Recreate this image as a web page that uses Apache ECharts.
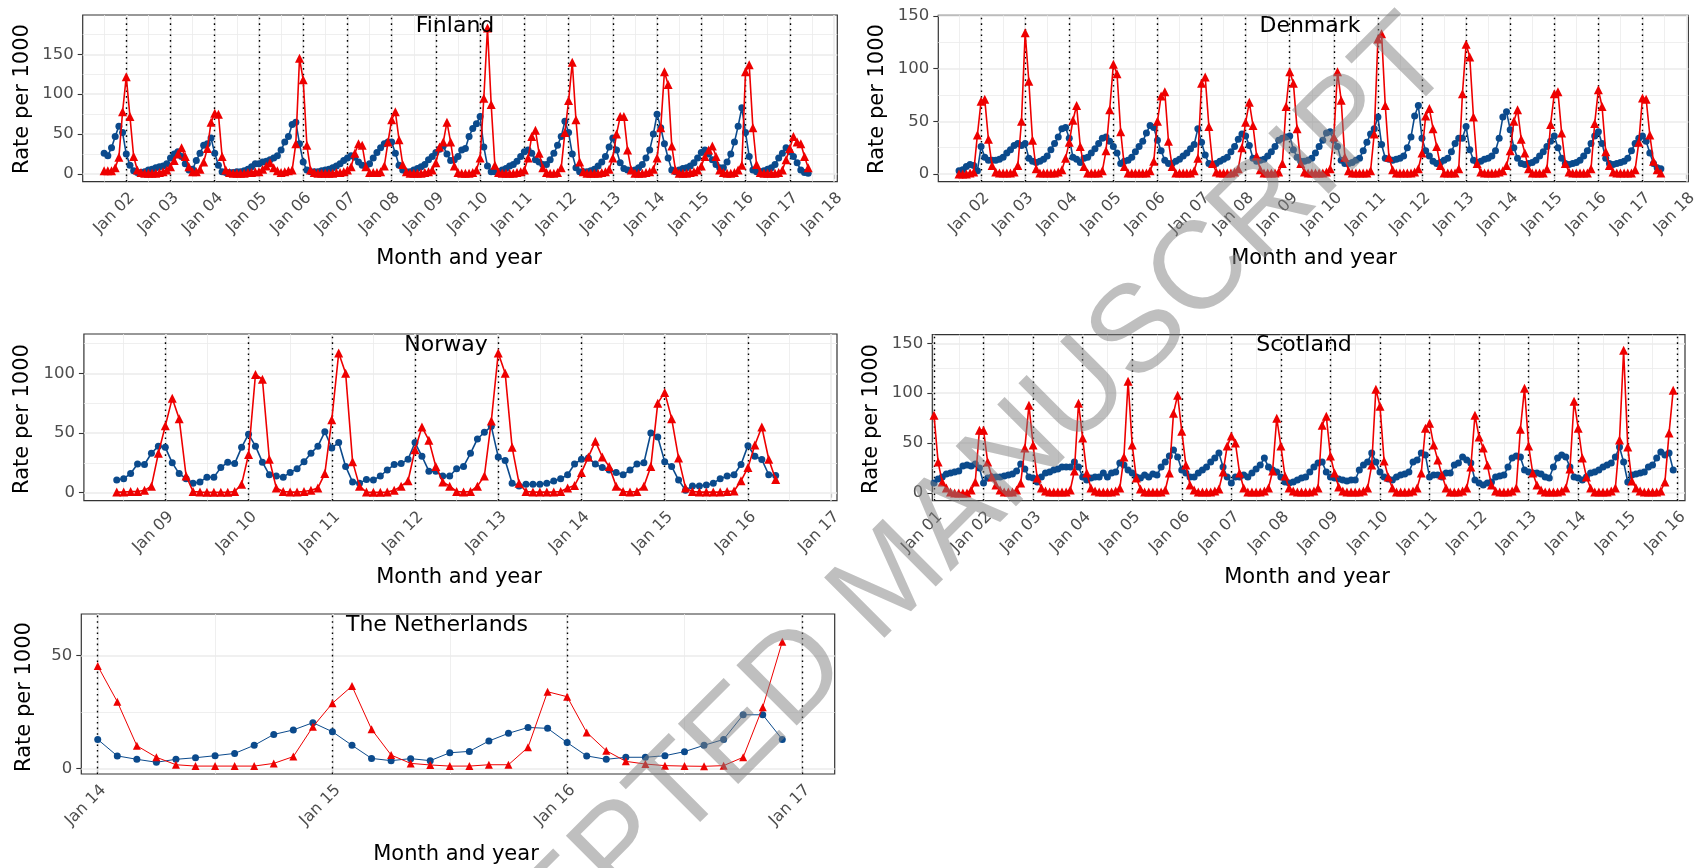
<!DOCTYPE html>
<html>
<head>
<meta charset="utf-8">
<title>Rate per 1000</title>
<script src="https://cdn.jsdelivr.net/npm/echarts@6/dist/echarts.min.js"></script>
<style>
  html, body { margin: 0; padding: 0; background: #fff; }
  #chart { width: 1700px; height: 868px; }
</style>
</head>
<body>
<div id="chart"></div>
<script>
// monthly rates, each series starts at [year, month]
var finlandStart = [2001, 7]
var finlandBlue = [
  26, 23, 33, 47, 60, 52,
  25, 11, 4, 2, 2, 3, 5, 6, 8, 9, 10, 13,
  20, 25, 28, 22, 13, 5, 6, 17, 26, 36, 38, 45,
  26, 11, 3, 2, 2, 2, 3, 3, 4, 6, 9, 13,
  13, 15, 16, 18, 20, 23, 30, 40, 47, 62, 65, 38,
  15, 5, 3, 3, 3, 4, 5, 6, 8, 10, 13, 17,
  20, 23, 21, 15, 11, 9, 13, 20, 27, 33, 38, 40,
  40, 26, 11, 5, 3, 3, 5, 7, 9, 12, 18, 22,
  27, 31, 35, 25, 17, 18, 22, 30, 32, 47, 57, 63,
  72, 34, 10, 3, 3, 3, 5, 7, 10, 12, 16, 22,
  28, 30, 26, 18, 15, 12, 12, 18, 26, 36, 47, 66,
  52, 25, 8, 3, 3, 3, 4, 6, 10, 15, 22, 34,
  45, 30, 14, 7, 5, 4, 5, 8, 12, 20, 30, 50,
  75, 58, 38, 20, 5, 3, 5, 7, 8, 10, 14, 20,
  27, 30, 25, 18, 12, 8, 8, 15, 25, 40, 60, 83,
  52, 22, 5, 3, 3, 4, 6, 8, 12, 20, 26, 33,
  28, 22, 14, 5, 2, 1
]
var finlandRed = [
  4, 4, 4, 8, 21, 78,
  122, 72, 22, 5, 2, 1, 1, 1, 1, 2, 3, 5,
  9, 17, 25, 33, 22, 9, 3, 3, 6, 15, 32, 65,
  76, 75, 22, 5, 2, 1, 1, 1, 1, 2, 2, 3,
  3, 6, 10, 14, 8, 4, 2, 3, 4, 5, 38, 145,
  118, 36, 5, 2, 1, 1, 1, 1, 1, 2, 2, 3,
  5, 9, 26, 38, 36, 9, 2, 2, 2, 3, 10, 40,
  68, 78, 43, 12, 3, 1, 1, 1, 1, 2, 3, 5,
  14, 34, 40, 65, 40, 10, 2, 1, 1, 1, 2, 5,
  20, 95, 183, 87, 11, 2, 1, 1, 1, 1, 2, 3,
  5, 20, 47, 55, 26, 8, 2, 1, 1, 2, 8, 52,
  92, 140, 68, 15, 3, 1, 1, 1, 1, 2, 3, 6,
  20, 50, 72, 72, 30, 5, 1, 1, 1, 2, 3, 6,
  20, 58, 128, 112, 35, 5, 1, 1, 1, 2, 3, 5,
  10, 22, 30, 35, 22, 5, 2, 1, 1, 2, 5, 11,
  128, 137, 58, 12, 2, 1, 1, 1, 1, 2, 5, 18,
  32, 47, 40, 38, 22, 8
]

var denmarkStart = [2001, 7]
var denmarkBlue = [
  3, 4, 7, 9, 8, 3,
  26, 16, 13, 13, 13, 14, 16, 20, 23, 27, 29, 27,
  29, 15, 12, 11, 12, 14, 17, 23, 29, 35, 43, 44,
  34, 16, 14, 11, 15, 16, 20, 24, 29, 34, 35, 31,
  26, 20, 10, 12, 13, 16, 21, 26, 31, 39, 46, 44,
  32, 22, 13, 10, 10, 12, 14, 17, 20, 24, 28, 43,
  30, 18, 10, 9, 10, 12, 14, 16, 21, 26, 33, 38,
  36, 27, 15, 12, 13, 14, 17, 21, 26, 32, 34, 35,
  36, 23, 16, 12, 12, 13, 15, 20, 26, 32, 39, 40,
  32, 26, 13, 10, 10, 11, 13, 15, 22, 30, 38, 43,
  54, 28, 15, 14, 13, 14, 15, 17, 25, 35, 55, 65,
  34, 22, 17, 12, 10, 11, 13, 15, 21, 29, 34, 34,
  45, 23, 13, 11, 12, 14, 15, 17, 22, 34, 54, 59,
  42, 25, 15, 10, 9, 10, 11, 13, 17, 21, 26, 31,
  36, 25, 15, 10, 9, 10, 11, 13, 17, 22, 29, 36,
  40, 29, 15, 10, 9, 10, 11, 12, 15, 22, 29, 34,
  36, 31, 20, 10, 6, 5
]
var denmarkRed = [
  0, 0, 0, 1, 2, 37,
  69, 71, 33, 8, 2, 1, 1, 1, 1, 2, 8, 50,
  134, 88, 32, 5, 1, 1, 1, 1, 1, 2, 4, 15,
  30, 51, 65, 26, 7, 1, 1, 1, 1, 3, 22, 61,
  104, 95, 40, 7, 1, 1, 1, 1, 1, 1, 3, 12,
  50, 74, 78, 31, 7, 1, 1, 1, 1, 1, 3, 15,
  86, 92, 45, 10, 2, 1, 1, 1, 1, 2, 5, 25,
  49, 68, 46, 17, 4, 1, 1, 1, 1, 2, 10, 64,
  97, 86, 43, 10, 2, 1, 1, 1, 1, 1, 2, 5,
  35, 97, 70, 16, 3, 1, 1, 1, 1, 1, 3, 38,
  128, 133, 65, 16, 4, 1, 1, 1, 1, 1, 2, 5,
  20, 55, 62, 43, 26, 8, 1, 1, 1, 1, 5, 76,
  123, 111, 54, 10, 2, 1, 1, 1, 1, 2, 3, 8,
  22, 50, 61, 33, 20, 5, 1, 1, 1, 1, 5, 47,
  76, 78, 39, 10, 2, 1, 1, 1, 1, 1, 5, 48,
  80, 64, 21, 8, 2, 1, 1, 1, 1, 1, 4, 30,
  72, 71, 37, 12, 4, 1
]

var norwayStart = [2008, 6]
var norwayBlue = [
  10.6, 11.7, 16, 24, 23.6, 33, 39,
  38, 25, 16, 11.7, 8, 9, 13, 13, 21, 25.6, 24.4, 38,
  49, 39, 25.6, 15, 14, 13, 17, 20, 26, 33, 39, 51,
  37.5, 42, 22, 9, 8, 11, 10.6, 14, 19, 23.6, 24.4, 28,
  42, 30.5, 18, 18, 14, 14, 20, 22, 33, 45, 50.6, 55.6,
  30, 27, 8, 5.6, 7, 7, 7, 8, 9.7, 11.7, 15, 24,
  28, 29, 24, 21, 19, 17, 15, 19, 24, 25, 50, 46.7,
  26, 22, 10.6, 2, 5.6, 5.6, 6.4, 8, 11.7, 14, 15, 23.6,
  39.4, 30.5, 27.8, 15, 14.4
]
var norwayRed = [
  0.5, 0.5, 1, 1, 2, 5.5, 33,
  56, 79, 62, 14, 1, 0.5, 0.3, 0.3, 0.3, 0.3, 1, 7,
  32, 99, 95, 28, 4, 1, 0.5, 0.5, 1, 2, 4, 16,
  61, 117, 100, 26, 5.5, 0.5, 0.3, 0.3, 0.5, 2, 5.5, 10,
  36, 55, 44, 22, 9, 5.5, 1, 0.5, 1, 5.5, 14, 60,
  117, 100, 38, 8, 1, 0.5, 0.5, 0.5, 0.5, 1, 4, 6,
  17, 30, 43, 30, 22, 5.5, 1, 0.5, 1, 5.5, 22, 75,
  84, 62, 29, 4, 1, 0.5, 0.5, 0.5, 0.5, 1, 1.4, 10,
  21, 40, 55, 28, 11
]

var scotlandStart = [2001, 1]
var scotlandBlue = [
  10, 14, 16, 19, 20, 21, 22, 27, 28, 27, 29, 25,
  10, 15, 16, 16, 16, 17, 18, 19, 22, 29, 24, 16,
  15, 11, 16, 20, 21, 23, 24, 26, 26, 26, 31, 26,
  16, 13, 15, 16, 16, 20, 16, 20, 21, 30, 28, 23,
  20, 16, 15, 18, 16, 19, 18, 26, 31, 37, 43, 36,
  23, 20, 16, 16, 20, 23, 26, 31, 35, 40, 26, 16,
  10, 16, 16, 18, 16, 20, 24, 28, 35, 26, 23, 21,
  16, 11, 10, 11, 13, 15, 16, 21, 26, 30, 31, 21,
  16, 15, 14, 13, 12, 13, 13, 23, 28, 31, 40, 31,
  21, 16, 14, 13, 16, 18, 19, 21, 31, 33, 40, 38,
  16, 18, 18, 16, 20, 20, 28, 30, 36, 33, 30, 13,
  10, 8, 10, 11, 16, 17, 18, 26, 35, 37, 36, 23,
  21, 20, 20, 19, 16, 15, 26, 35, 38, 36, 26, 16,
  15, 13, 16, 20, 21, 23, 26, 28, 30, 36, 46, 31,
  11, 18, 19, 20, 21, 26, 28, 35, 41, 38, 40, 23
]
var scotlandRed = [
  78, 31, 11, 5, 1, 0, 0, 0, 0, 3, 11, 63,
  63, 31, 16, 8, 3, 1, 1, 1, 3, 10, 45, 88,
  48, 15, 5, 2, 1, 1, 1, 1, 1, 3, 22, 90,
  55, 20, 5, 2, 1, 1, 1, 1, 2, 5, 36, 112,
  48, 15, 4, 1, 1, 1, 1, 1, 3, 20, 80, 98,
  62, 28, 8, 3, 1, 1, 1, 1, 2, 4, 21, 47,
  57, 50, 20, 5, 1, 1, 1, 1, 2, 5, 22, 75,
  47, 17, 5, 2, 1, 1, 1, 1, 2, 5, 68, 77,
  37, 20, 6, 2, 1, 1, 1, 1, 2, 5, 28, 104,
  87, 32, 16, 5, 1, 1, 1, 1, 2, 5, 20, 65,
  70, 48, 33, 18, 5, 1, 1, 1, 2, 5, 26, 78,
  56, 45, 28, 8, 2, 1, 1, 1, 2, 5, 64, 105,
  47, 20, 8, 3, 1, 1, 1, 1, 2, 5, 24, 92,
  65, 35, 16, 5, 1, 1, 1, 1, 2, 5, 53, 143,
  46, 12, 5, 2, 1, 1, 1, 1, 2, 11, 60, 103
]

var netherlandsStart = [2014, 1]
var netherlandsBlue = [
  12.8, 5.5, 4, 2.7, 4, 4.7, 5.6, 6.6, 10.2, 15, 17, 20.2,
  16.2, 10.2, 4.4, 3.4, 4.3, 3.4, 6.9, 7.5, 12.1, 15.5, 18.1, 17.7,
  11.4, 5.5, 4, 4.9, 4.9, 5.6, 7.4, 10.2, 12.8, 23.7, 23.7, 12.8
]
var netherlandsRed = [
  45.3, 29.5, 10, 4.9, 1.6, 1, 1, 1, 1, 2.2, 5.2, 18.4,
  28.8, 36.4, 17.3, 5.9, 2.2, 1.5, 1, 1, 1.6, 1.6, 9.3, 33.9,
  31.7, 15.9, 7.8, 3.1, 1.9, 1.2, 1, 0.9, 1.2, 4.9, 27, 56
]

function range (a, b) {
  var out = []
  for (var v = a; v <= b + 1e-9; v += 1) out.push(v)
  return out
}

function monthly (start, values) {
  return values.map(function (v, i) {
    return [start[0] + (start[1] - 1 + i) / 12, v]
  })
}

var BLUE = '#0b4a8c'
var RED = '#ee0000'
var FONT = '"DejaVu Sans", sans-serif'

var panels = [
  { name: 'Finland', start: finlandStart, blue: finlandBlue, red: finlandRed,
    box: [82.7, 15, 754.6, 166.7], x: [2001.015, 2018.075], y: [-9.6, 199.2],
    years: range(2002, 2018), minorX: range(2001, 2017).map(function (v) { return v + 0.5 }),
    vlines: range(2002, 2017), yMajor: [0, 50, 100, 150], yMinor: [25, 75, 125, 175],
    title: [455, 26], xTitle: [459, 259], yTitle: [23, 99] },
  { name: 'Denmark', start: denmarkStart, blue: denmarkBlue, red: denmarkRed,
    box: [938.3, 15.3, 753.4, 166.4], x: [2001.03, 2018.04], y: [-7.3, 150.5],
    years: range(2002, 2018), minorX: range(2001, 2017).map(function (v) { return v + 0.5 }),
    vlines: range(2002, 2017), yMajor: [0, 50, 100, 150], yMinor: [25, 75, 125],
    title: [1310, 26], xTitle: [1314, 259], yTitle: [878, 99] },
  { name: 'Norway', start: norwayStart, blue: norwayBlue, red: norwayRed,
    box: [83.9, 334, 753.1, 166.7], x: [2008.022, 2017.07], y: [-6.7, 132.9],
    years: range(2009, 2017), minorX: range(2008, 2016).map(function (v) { return v + 0.5 }),
    vlines: range(2009, 2016), yMajor: [0, 50, 100], yMinor: [25, 75, 125],
    title: [446, 345], xTitle: [459, 578], yTitle: [23, 419] },
  { name: 'Scotland', start: scotlandStart, blue: scotlandBlue, red: scotlandRed,
    box: [932.3, 334.7, 752.7, 166], x: [2000.966, 2016.155], y: [-7.7, 158.6],
    years: range(2001, 2016), minorX: range(2001, 2015).map(function (v) { return v + 0.5 }),
    vlines: range(2001, 2016), yMajor: [0, 50, 100, 150], yMinor: [25, 75, 125],
    title: [1304, 345], xTitle: [1307, 578], yTitle: [872, 419] },
  { name: 'The Netherlands', start: netherlandsStart, blue: netherlandsBlue, red: netherlandsRed,
    box: [81.3, 614, 753.4, 160], x: [2013.93, 2017.14], y: [-2.5, 68.3],
    years: range(2014, 2017), minorX: [2014.5, 2015.5, 2016.5],
    vlines: range(2014, 2017), yMajor: [0, 50], yMinor: [25],
    title: [437, 625], xTitle: [456, 855], yTitle: [25, 697], thin: true }
]

function yearLabel (v) {
  var y = Math.round(v) % 100
  return 'Jan ' + (y < 10 ? '0' + y : y)
}

function text (str, x, y, size, rotation) {
  return {
    type: 'text', x: x, y: y, rotation: rotation || 0, z: 50, silent: true,
    style: {
      text: str, x: 0, y: 0, fill: '#000', font: size + 'px ' + FONT,
      textAlign: 'center', textVerticalAlign: 'middle', align: 'center', verticalAlign: 'middle'
    }
  }
}

var grids = []
var xAxes = []
var yAxes = []
var series = []
var graphics = []

panels.forEach(function (p, i) {
  grids.push({
    left: p.box[0], top: p.box[1], width: p.box[2], height: p.box[3],
    show: true, borderColor: '#333', borderWidth: 1.2, backgroundColor: '#fff'
  })
  xAxes.push({
    type: 'value', gridIndex: i, min: p.x[0], max: p.x[1],
    axisLine: { show: false },
    splitLine: { show: false },
    axisTick: { customValues: p.years, length: 5, lineStyle: { color: '#333', width: 1.1 } },
    axisLabel: {
      customValues: p.years, formatter: yearLabel, rotate: 45, margin: 8,
      align: 'right', verticalAlign: 'top',
      color: '#4d4d4d', fontSize: 16, fontFamily: FONT
    }
  })
  yAxes.push({
    type: 'value', gridIndex: i, min: p.y[0], max: p.y[1],
    axisLine: { show: false },
    splitLine: { show: false },
    axisTick: { customValues: p.yMajor, length: 5, lineStyle: { color: '#333', width: 1.1 } },
    axisLabel: { customValues: p.yMajor, margin: 9, color: '#4d4d4d', fontSize: 16.5, fontFamily: FONT }
  })

  // background grid and the dotted January lines
  var marks = []
  p.minorX.forEach(function (v) { marks.push({ xAxis: v, lineStyle: { color: '#ebebeb', width: 0.8, type: 'solid' } }) })
  p.yMinor.forEach(function (v) { marks.push({ yAxis: v, lineStyle: { color: '#ebebeb', width: 0.8, type: 'solid' } }) })
  p.years.forEach(function (v) { marks.push({ xAxis: v, lineStyle: { color: '#ebebeb', width: 1.6, type: 'solid' } }) })
  p.yMajor.forEach(function (v) { marks.push({ yAxis: v, lineStyle: { color: '#ebebeb', width: 1.6, type: 'solid' } }) })
  p.vlines.forEach(function (v) { marks.push({ xAxis: v, lineStyle: { color: '#000', width: 1.4, type: [1.6, 4] } }) })

  series.push({
    type: 'line', xAxisIndex: i, yAxisIndex: i, data: [], silent: true,
    markLine: { z: 1, silent: true, symbol: ['none', 'none'], label: { show: false }, data: marks }
  })
  series.push({
    type: 'line', name: p.name + ' blue', xAxisIndex: i, yAxisIndex: i, z: 3,
    data: monthly(p.start, p.blue),
    symbol: 'circle', symbolSize: 7,
    lineStyle: { color: BLUE, width: p.thin ? 1 : 1.6 },
    itemStyle: { color: BLUE }
  })
  series.push({
    type: 'line', name: p.name + ' red', xAxisIndex: i, yAxisIndex: i, z: 4,
    data: monthly(p.start, p.red),
    symbol: 'triangle', symbolSize: p.thin ? 8 : 9,
    lineStyle: { color: RED, width: p.thin ? 1 : 1.6 },
    itemStyle: { color: RED }
  })

  graphics.push(text(p.name, p.title[0], p.title[1], 22))
  graphics.push(text('Month and year', p.xTitle[0], p.xTitle[1], 21))
  graphics.push(text('Rate per 1000', p.yTitle[0], p.yTitle[1], 21, Math.PI / 2))
})

// watermark of the source page
graphics.push({
  type: 'text', x: 892, y: 582, rotation: Math.PI / 4, z: 100, silent: true,
  style: {
    text: 'ACCEPTED MANUSCRIPT', x: 0, y: 0, fill: 'rgba(128,128,128,0.5)',
    font: '124px "Liberation Sans", Arial, sans-serif',
    textAlign: 'center', textVerticalAlign: 'middle', align: 'center', verticalAlign: 'middle'
  }
})

var chart = echarts.init(document.getElementById('chart'))
chart.setOption({
  animation: false,
  backgroundColor: '#fff',
  grid: grids,
  xAxis: xAxes,
  yAxis: yAxes,
  series: series,
  graphic: graphics
})
</script>
</body>
</html>
